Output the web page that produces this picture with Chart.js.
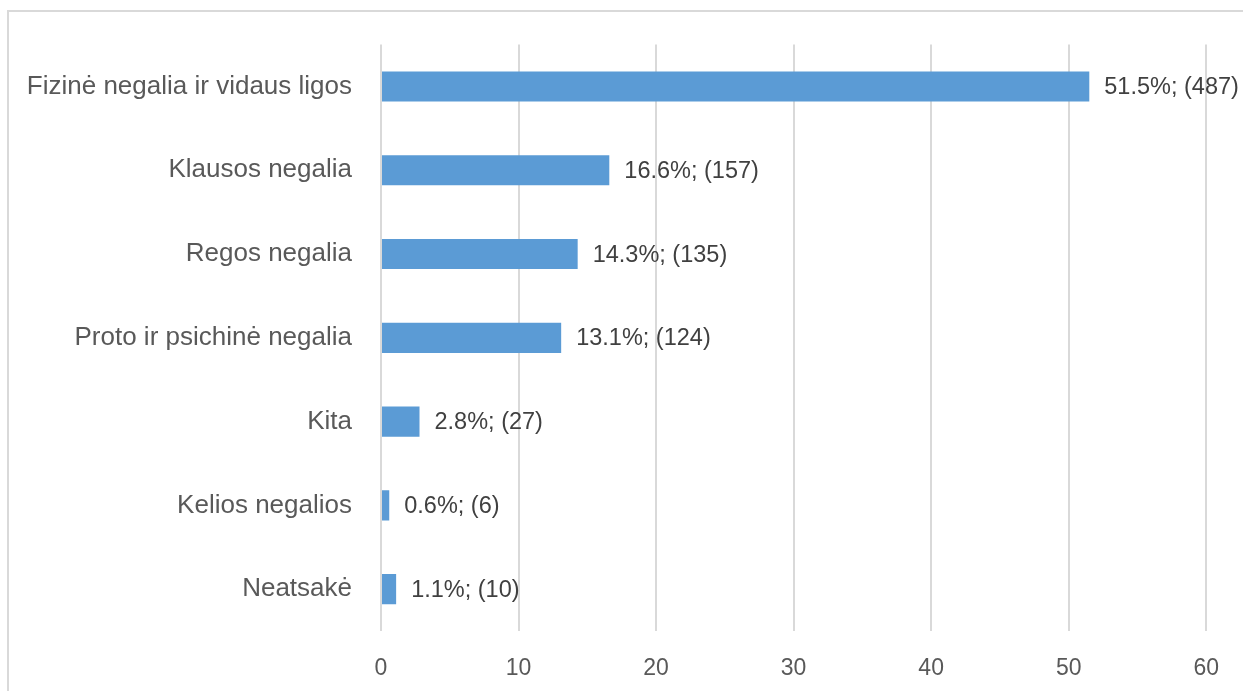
<!DOCTYPE html>
<html>
<head>
<meta charset="utf-8">
<script src="https://cdn.jsdelivr.net/npm/chart.js@4"></script>
<style>
  html, body { margin: 0; padding: 0; background: #fff; }
  #wrap { position: relative; width: 1243px; height: 691px; overflow: hidden; }
  #frame { position: absolute; left: 7px; top: 10px; width: 1300px; height: 800px; border: 2px solid #d9d9d9; box-sizing: border-box; }
  canvas { position: absolute; left: 0; top: 0; }
</style>
</head>
<body>
<div id="wrap">
  <div id="frame"></div>
  <canvas id="chart" width="1243" height="691"></canvas>
</div>
<script>
const categories = [
  "Fizinė negalia ir vidaus ligos",
  "Klausos negalia",
  "Regos negalia",
  "Proto ir psichinė negalia",
  "Kita",
  "Kelios negalios",
  "Neatsakė"
];
const percents = [51.5, 16.6, 14.3, 13.1, 2.8, 0.6, 1.1];
const counts = [487, 157, 135, 124, 27, 6, 10];
const xTicks = [0, 10, 20, 30, 40, 50, 60];

const fontFamily = "'Liberation Sans', Arial, sans-serif";

// etiketės prie stulpelių galų
const valueLabels = {
  id: "valueLabels",
  afterDatasetsDraw(chart) {
    const ctx = chart.ctx;
    const meta = chart.getDatasetMeta(0);
    ctx.save();
    ctx.font = "23.5px " + fontFamily;
    ctx.fillStyle = "#404040";
    ctx.textAlign = "left";
    ctx.textBaseline = "middle";
    meta.data.forEach((bar, i) => {
      ctx.fillText(percents[i].toFixed(1) + "%; (" + counts[i] + ")", bar.x + 15, bar.y + 1);
    });
    ctx.restore();
  }
};

new Chart(document.getElementById("chart"), {
  type: "bar",
  data: {
    labels: categories,
    datasets: [{
      data: percents,
      backgroundColor: "#5b9bd5",
      borderWidth: 0,
      categoryPercentage: 1,
      barPercentage: 0.36
    }]
  },
  options: {
    indexAxis: "y",
    responsive: false,
    animation: false,
    layout: { padding: { top: 36, right: 28, left: 0, bottom: 0 } },
    plugins: { legend: { display: false }, tooltip: { enabled: false } },
    scales: {
      x: {
        min: 0,
        max: 60,
        afterBuildTicks: axis => { axis.ticks = xTicks.map(v => ({ value: v })); },
        afterFit: axis => { axis.height = 60; },
        grid: { color: "#d9d9d9", lineWidth: 2, drawTicks: false },
        border: { display: false },
        ticks: { padding: 24, color: "#595959", font: { family: fontFamily, size: 23 } }
      },
      y: {
        afterFit: axis => { axis.width = 381; },
        grid: { display: false, drawTicks: false },
        border: { display: false },
        ticks: { padding: 29, color: "#595959", font: { family: fontFamily, size: 26 } }
      }
    }
  },
  plugins: [valueLabels]
});
</script>
</body>
</html>
